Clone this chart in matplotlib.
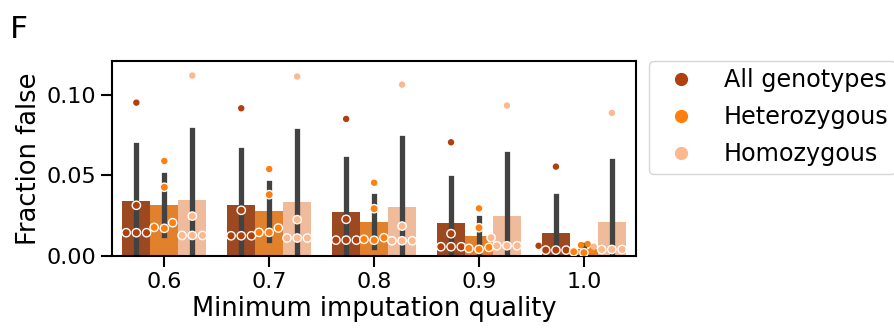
import numpy as np
import pandas as pd
import matplotlib
matplotlib.use("Agg")
import matplotlib.pyplot as plt
import seaborn as sns
from matplotlib.lines import Line2D
from matplotlib.collections import PathCollection
from matplotlib.ticker import FormatStrFormatter

qualities = ["0.6", "0.7", "0.8", "0.9", "1.0"]
genotypes = ["All genotypes", "Heterozygous", "Homozygous"]
dot_colors = ["#b0410e", "#ff7f0e", "#fdb88d"]

# fraction false per sample, one list per imputation quality
all_vals = [[0.0145, 0.0145, 0.0145, 0.0315, 0.0952],
            [0.0126, 0.0126, 0.0126, 0.0284, 0.0917],
            [0.0099, 0.0099, 0.0099, 0.0228, 0.0851],
            [0.0058, 0.0058, 0.0058, 0.0139, 0.0706],
            [0.0037, 0.0037, 0.0037, 0.0064, 0.0555]]
het_vals = [[0.0178, 0.0172, 0.0207, 0.0427, 0.0590],
            [0.0147, 0.0147, 0.0174, 0.0381, 0.0540],
            [0.0104, 0.0098, 0.0114, 0.0294, 0.0455],
            [0.0048, 0.0042, 0.0054, 0.0176, 0.0296],
            [0.0027, 0.0021, 0.0068, 0.0075, 0.0037]]
hom_vals = [[0.0128, 0.0128, 0.0128, 0.0248, 0.1120],
            [0.0112, 0.0112, 0.0112, 0.0226, 0.1114],
            [0.0095, 0.0095, 0.0095, 0.0186, 0.1064],
            [0.0064, 0.0064, 0.0064, 0.0114, 0.0934],
            [0.0041, 0.0041, 0.0041, 0.0058, 0.0888]]

# samples shown as plain dots (index within each list above)
all_plain = [[4], [4], [4], [4], [3, 4]]
het_plain = [[4], [4], [4], [4], [2, 3, 4]]
hom_plain = [[4], [4], [4], [4], [3, 4]]

rows = []
lookup = {}
for g, vals, plain in zip(genotypes, [all_vals, het_vals, hom_vals], [all_plain, het_plain, hom_plain]):
    for q, v, p in zip(qualities, vals, plain):
        flags = {}
        for k, x in enumerate(v):
            rows.append({"q": q, "genotype": g, "value": x})
            flags[round(x, 5)] = k in p
        lookup[tuple(sorted(np.round(v, 5)))] = flags
df = pd.DataFrame(rows)

plt.rcParams.update({
    "font.family": "DejaVu Sans",
    "font.size": 16,
    "axes.linewidth": 1.5,
    "xtick.major.size": 8, "ytick.major.size": 8,
    "xtick.major.width": 1.5, "ytick.major.width": 1.5,
    "xtick.labelsize": 16, "ytick.labelsize": 16,
})

fig = plt.figure(figsize=(8.95, 3.3), dpi=100)
ax = fig.add_axes([0.125, 0.224, 0.586, 0.591])

sns.barplot(data=df, x="q", y="value", hue="genotype", order=qualities, hue_order=genotypes,
            palette=dot_colors, saturation=0.75, errorbar="sd",
            err_kws={"color": ".26", "linewidth": 3.8}, linewidth=0, legend=False, ax=ax)
sns.swarmplot(data=df, x="q", y="value", hue="genotype", order=qualities, hue_order=genotypes,
              palette=dot_colors, dodge=True, size=6.0, edgecolor="white", linewidth=1,
              legend=False, ax=ax)

# plain dots: smaller, edge in the face colour instead of white
for c in ax.collections:
    if not isinstance(c, PathCollection):
        continue
    ys = np.round(c.get_offsets()[:, 1], 5)
    flags = lookup.get(tuple(sorted(ys)))
    if flags is None:
        continue
    plain = np.array([flags[y] for y in ys])
    face = np.array(c.get_facecolors())
    if len(face) == 1:
        face = np.repeat(face, len(ys), axis=0)
    edge = np.where(plain[:, None], face, np.array([1, 1, 1, 1.0]))
    c.set_edgecolors(edge)
    c.set_sizes(np.where(plain, 3.6 ** 2, 6.0 ** 2))
    c.set_zorder(3)

ax.set_ylim(0, 0.121)
ax.set_xlim(-0.5, 4.5)
ax.set_yticks([0, 0.05, 0.10])
ax.yaxis.set_major_formatter(FormatStrFormatter("%.2f"))
ax.set_xlabel("Minimum imputation quality", fontsize=18.5, labelpad=3)
ax.set_ylabel("Fraction false", fontsize=18.5, labelpad=3)

handles = [Line2D([], [], marker="o", linestyle="", color=c, markersize=8.5) for c in dot_colors]
ax.legend(handles, genotypes, loc="upper left", bbox_to_anchor=(1.025, 1.0), borderaxespad=0,
          fontsize=17.2, labelspacing=0.55, borderpad=0.3, handletextpad=0.8)

fig.text(0.011, 1 - 38 / 330, "F", fontsize=22.5, va="baseline")

fig.savefig("out.png", dpi=100)
